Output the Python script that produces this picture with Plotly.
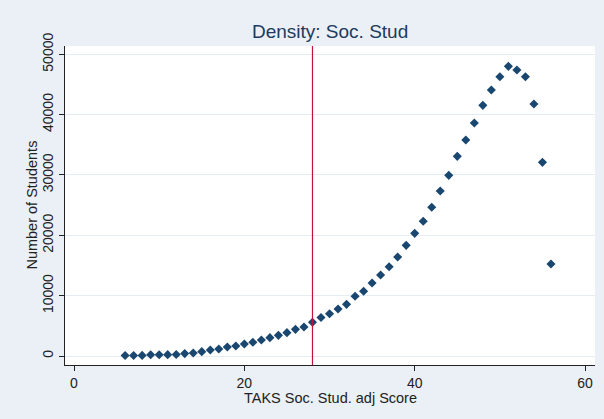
import plotly.graph_objects as go

scores = list(range(6, 57))
students = [80, 80, 100, 200, 200, 220, 250, 400, 500, 720,
            990, 1160, 1490, 1660, 1990, 2270, 2650, 3040, 3420, 3870,
            4420, 4810, 5600, 6380, 6990, 7790, 8560, 9890, 10720, 12100,
            13420, 14800, 16400, 18340, 20330, 22320, 24640, 27340, 29940, 33090,
            35790, 38610, 41540, 44080, 46290, 48000, 47390, 46290, 41760, 32090,
            15240]
cutoff_score = 28
x_ticks = [0, 20, 40, 60]
y_ticks = [0, 10000, 20000, 30000, 40000, 50000]
y_tick_labels = ["0", "10000", "20000", "30000", "40000", "50000"]

title_text = "Density: Soc. Stud"
x_title = "TAKS Soc. Stud. adj Score"
y_title = "Number of Students"

FONT = "Liberation Sans, Arial, sans-serif"

fig = go.Figure()
fig.add_trace(go.Scatter(
    x=scores, y=students, mode="markers",
    marker=dict(symbol="diamond", size=7, color="#1a476f", line=dict(width=0)),
    showlegend=False, hoverinfo="x+y"))

fig.add_vline(x=cutoff_score, line=dict(color="#c0143c", width=1.2))

fig.update_layout(
    width=604, height=419,
    margin=dict(l=65, r=9, t=46, b=54),
    paper_bgcolor="#eaf0f5",
    plot_bgcolor="#ffffff",
    font=dict(family=FONT, size=14, color="#222222"),
    title=dict(text=title_text, x=0.5465, xanchor="center", y=0.925, yanchor="middle",
               font=dict(size=19, color="#1e3a5c", family=FONT)),
    xaxis=dict(range=[-1.057, 61.17], tickvals=x_ticks, ticks="outside", ticklen=5,
               tickcolor="#222222", showline=True, linecolor="#222222", linewidth=1,
               showgrid=False, zeroline=False, tickfont=dict(size=14)),
    yaxis=dict(range=[-1492, 51375], tickvals=y_ticks, ticktext=y_tick_labels,
               ticks="outside", ticklen=5,
               tickcolor="#222222", showline=True, linecolor="#222222", linewidth=1,
               showgrid=True, gridcolor="#e6edf2", gridwidth=1, zeroline=False,
               tickangle=-90, tickfont=dict(size=14)),
)

fig.add_annotation(text=x_title, xref="paper", yref="paper", x=0.5, y=-0.105,
                   xanchor="center", yanchor="middle", showarrow=False,
                   font=dict(size=14.5, color="#222222"))
fig.add_annotation(text=y_title, xref="paper", yref="paper", x=-0.064, y=0.5,
                   xanchor="center", yanchor="middle", showarrow=False, textangle=-90,
                   font=dict(size=14.5, color="#222222"))

fig.write_html("out.html")
